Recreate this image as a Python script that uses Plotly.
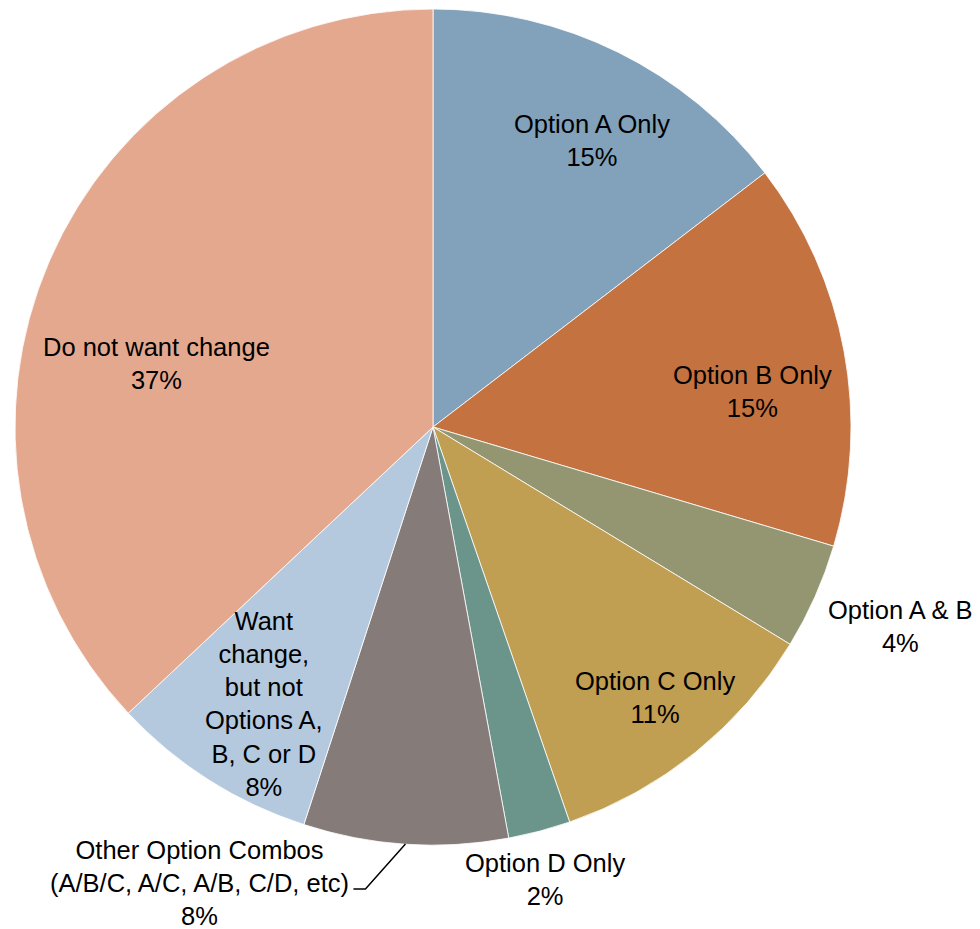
import math
import plotly.graph_objects as go

# ---- data ----
labels = ["Option A Only", "Option B Only", "Option A & B", "Option C Only",
          "Option D Only", "Other Option Combos", "Want change, but not Options A, B, C or D",
          "Do not want change"]
display_names = ["Option A Only", "Option B Only", "Option A & B", "Option C Only",
                 "Option D Only", "Other Option Combos<br>(A/B/C, A/C, A/B, C/D, etc)",
                 "Want<br>change,<br>but not<br>Options A,<br>B, C or D",
                 "Do not want change"]
values = [14.6, 15.0, 4.1, 11.0, 2.4, 7.9, 8.0, 37.0]
colors = ["#82A2BB", "#C4723F", "#949671", "#C09E52", "#6B948A", "#857B79", "#B4C9DE", "#E4A88F"]

# ---- layout / style ----
W, H = 980, 929
CX, CY, R = 433, 427, 418          # pie centre and radius in pixels
FONT = dict(family="Liberation Sans, Arial, sans-serif", size=25.5, color="black")
# label placement: (radius fraction, angle shift in degrees) relative to slice mid-angle
label_place = [(0.784, 2.8), (0.768, 4.1), (1.217, -0.8), (0.837, -0.5),
               (1.116, 0.9), (1.226, 23.3), (0.776, -1.0), (0.678, -10.4)]

dom_x = [(CX - R) / W, (CX + R) / W]
dom_y = [1 - (CY + R) / H, 1 - (CY - R) / H]

fig = go.Figure(go.Pie(
    labels=labels, values=values, sort=False, direction="clockwise", rotation=0,
    marker=dict(colors=colors, line=dict(color="white", width=0.8)),
    textinfo="none", hoverinfo="label+percent", showlegend=False,
    domain=dict(x=dom_x, y=dom_y),
))

total = sum(values)
def to_paper(px, py):
    return px / W, 1 - py / H

def polar(theta_deg, rf):
    t = math.radians(theta_deg)
    return CX + rf * R * math.sin(t), CY - rf * R * math.cos(t)

annotations = []
shapes = []
cum = 0.0
for i, v in enumerate(values):
    mid = (cum + v / 2) / total * 360
    cum += v
    pct = round(v / total * 100)
    rf, dth = label_place[i]
    px, py = polar(mid + dth, rf)
    x, y = to_paper(px, py)
    annotations.append(dict(
        x=x, y=y, xref="paper", yref="paper", showarrow=False,
        text=f"{display_names[i]}<br>{pct}%", font=FONT, align="center",
        xanchor="center", yanchor="middle", borderpad=0))
    if labels[i] == "Other Option Combos":
        sx, sy = polar(mid, 1.0)
        ex, ey = sx - 40, sy + 45
        fx, fy = ex - 12, ey
        pts = [to_paper(sx, sy), to_paper(ex, ey), to_paper(fx, fy)]
        path = "M {},{} L {},{} L {},{}".format(*[c for p in pts for c in p])
        shapes.append(dict(type="path", xref="paper", yref="paper", path=path,
                           line=dict(color="black", width=1.5)))

fig.update_layout(
    width=W, height=H, margin=dict(l=0, r=0, t=0, b=0),
    paper_bgcolor="white", plot_bgcolor="white",
    annotations=annotations, shapes=shapes,
)
fig.write_html("out.html", config={"displayModeBar": False},
               post_script="document.body.style.margin='0';document.body.style.padding='0';")
